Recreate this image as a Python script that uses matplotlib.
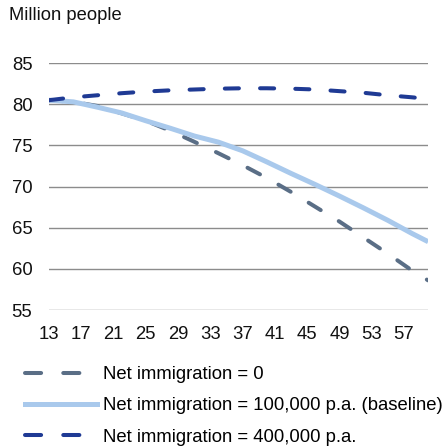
import matplotlib.pyplot as plt
from matplotlib.lines import Line2D

plt.rcParams['font.family'] = ['Liberation Sans', 'DejaVu Sans']

years = [2013, 2016, 2019, 2022, 2025, 2028, 2031, 2034, 2037, 2040,
         2043, 2046, 2049, 2052, 2055, 2058, 2060]
# population, million people
net_zero = [80.5, 80.3, 79.8, 78.9, 78.0, 76.8, 75.45, 74.05, 72.6, 71.05,
            69.35, 67.55, 65.75, 63.8, 61.85, 59.8, 58.6]
baseline = [80.5, 80.3, 79.65, 78.95, 78.0, 77.1, 76.15, 75.4, 74.35, 73.0,
            71.6, 70.25, 68.85, 67.4, 65.9, 64.3, 63.3]
net_400k = [80.5, 80.85, 81.1, 81.35, 81.55, 81.7, 81.8, 81.9, 81.95, 81.95,
            81.9, 81.8, 81.6, 81.4, 81.1, 80.85, 80.65]

labels = ['Net immigration = 0',
          'Net immigration = 100,000 p.a. (baseline)',
          'Net immigration = 400,000 p.a.']
tick_years = list(range(2013, 2058, 4))
tick_labels = [str(y)[2:] for y in tick_years]
y_ticks = [55, 60, 65, 70, 75, 80, 85]

c_zero = '#5a6e86'
c_base = '#a9c9ec'
c_400 = '#1f3a94'

fig = plt.figure(figsize=(4.46, 4.48), dpi=100)
ax = fig.add_axes([0.110, 0.308, 0.850, 0.551])

lw = 2.9
ax.plot(years, net_zero, color=c_zero, lw=lw, dashes=(3.5, 5.25),
        dash_capstyle='round', zorder=3)
ax.plot(years, baseline, color=c_base, lw=3.6, solid_capstyle='butt', zorder=4)
ax.plot(years, net_400k, color=c_400, lw=lw, dashes=(3.5, 5.25),
        dash_capstyle='round', zorder=5)

ax.set_xlim(2013, 2060)
ax.set_ylim(55, 85)
ax.set_yticks(y_ticks)
ax.set_xticks(tick_years)
ax.set_xticklabels(tick_labels)
ax.tick_params(axis='both', length=0, labelsize=13.3, labelcolor='#111111')
ax.tick_params(axis='y', pad=12)
ax.tick_params(axis='x', pad=11.5)
ax.grid(axis='y', color='#8c8c8c', lw=1.0)
ax.set_axisbelow(True)
for s in ax.spines.values():
    s.set_visible(False)

fig.text(9 / 446, 1 - 15 / 448, 'Million people', fontsize=13.2,
         va='center', ha='left', color='#111111')

handles = [
    Line2D([], [], color=c_zero, lw=lw, dashes=(4, 5.5), dash_capstyle='round'),
    Line2D([], [], color=c_base, lw=3.6),
    Line2D([], [], color=c_400, lw=lw, dashes=(4, 5.5), dash_capstyle='round'),
]
fig.legend(handles, labels, loc='upper left', bbox_to_anchor=(0.056, 0.183),
           frameon=False, fontsize=13.3, handlelength=3.9, handletextpad=0.3,
           labelspacing=0.78, borderaxespad=0, borderpad=0)

fig.savefig('out.png', dpi=100)
